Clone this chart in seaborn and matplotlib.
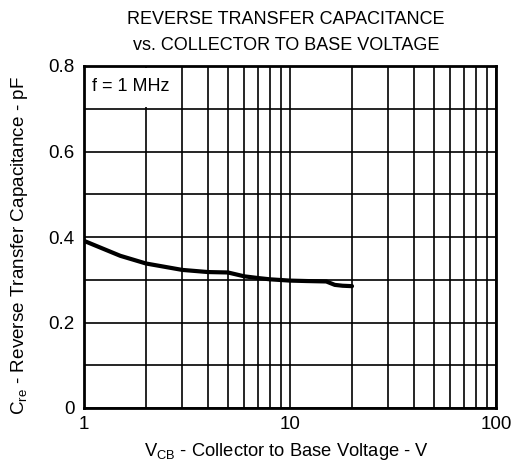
import matplotlib
matplotlib.use("Agg")
import matplotlib.pyplot as plt
from matplotlib.patches import Rectangle
import seaborn as sns
import pandas as pd
import numpy as np

vcb = [1, 1.5, 2, 3, 4, 5, 6, 7, 8, 10, 12, 15, 16.5, 18, 20]
cre = [0.391, 0.356, 0.338, 0.323, 0.318, 0.317, 0.308, 0.304, 0.301, 0.298, 0.297, 0.296, 0.288, 0.286, 0.285]
x_ticks = [1, 10, 100]
x_ticklabels = ["1", "10", "100"]
y_ticks = [0, 0.2, 0.4, 0.6, 0.8]
y_ticklabels = ["0", "0.2", "0.4", "0.6", "0.8"]
title_lines = ["REVERSE TRANSFER CAPACITANCE", "vs. COLLECTOR TO BASE VOLTAGE"]

sns.set_theme(style="white")
plt.rcParams['font.family'] = ['Liberation Sans', 'DejaVu Sans']
plt.rcParams['mathtext.fontset'] = 'custom'
plt.rcParams['mathtext.rm'] = 'Liberation Sans'
plt.rcParams['text.color'] = 'black'
plt.rcParams['axes.labelcolor'] = 'black'
plt.rcParams['xtick.color'] = 'black'
plt.rcParams['ytick.color'] = 'black'

W, H = 524, 474
fig = plt.figure(figsize=(W/100, H/100), dpi=100)
ax = fig.add_axes([84/W, 1-408/H, (496-84)/W, (408-66)/H])

df = pd.DataFrame({"vcb": vcb, "cre": cre})
sns.lineplot(data=df, x="vcb", y="cre", ax=ax, color="black", linewidth=3, zorder=3)

ax.set_xscale("log")
ax.set_xlim(1, 100)
ax.set_ylim(0, 0.8)
ax.set_xticks(x_ticks)
ax.set_xticklabels(x_ticklabels)
ax.set_yticks(y_ticks)
ax.set_yticklabels(y_ticklabels)
ax.set_yticks(np.arange(0, 0.81, 0.1), minor=True)
ax.tick_params(axis="both", which="both", length=0, labelsize=13.5, colors="black")
ax.tick_params(axis="y", pad=7)
ax.tick_params(axis="x", pad=6)

ax.set_axisbelow(True)
ax.grid(True, which="both", axis="both", color="black", linewidth=1.2)

for s in ax.spines.values():
    s.set_color("black")
    s.set_linewidth(2)

ax.add_patch(Rectangle((1.02, 0.705), 2.92 - 1.02, 0.09, facecolor="white", edgecolor="none", zorder=1))
ax.text(1.09, 0.753, "f = 1 MHz", fontsize=13, va="center", ha="left", zorder=2, color="black")

ax.set_xlabel("V$_\\mathregular{CB}$ - Collector to Base Voltage - V", fontsize=13.2, color="black")
ax.xaxis.set_label_coords((286-84)/412, (408-452)/342)
ax.set_ylabel("C$_\\mathregular{re}$ - Reverse Transfer Capacitance - pF", fontsize=13.6, color="black")
ax.yaxis.set_label_coords((20-84)/412, (408-246)/342)
ax.xaxis.label.set_va("center")
ax.yaxis.label.set_va("center")

fig.text(286/W, 1-20/H, title_lines[0], ha="center", va="center", fontsize=13, color="black")
fig.text(286/W, 1-45/H, title_lines[1], ha="center", va="center", fontsize=13, color="black")

fig.savefig("out.png", dpi=100)
